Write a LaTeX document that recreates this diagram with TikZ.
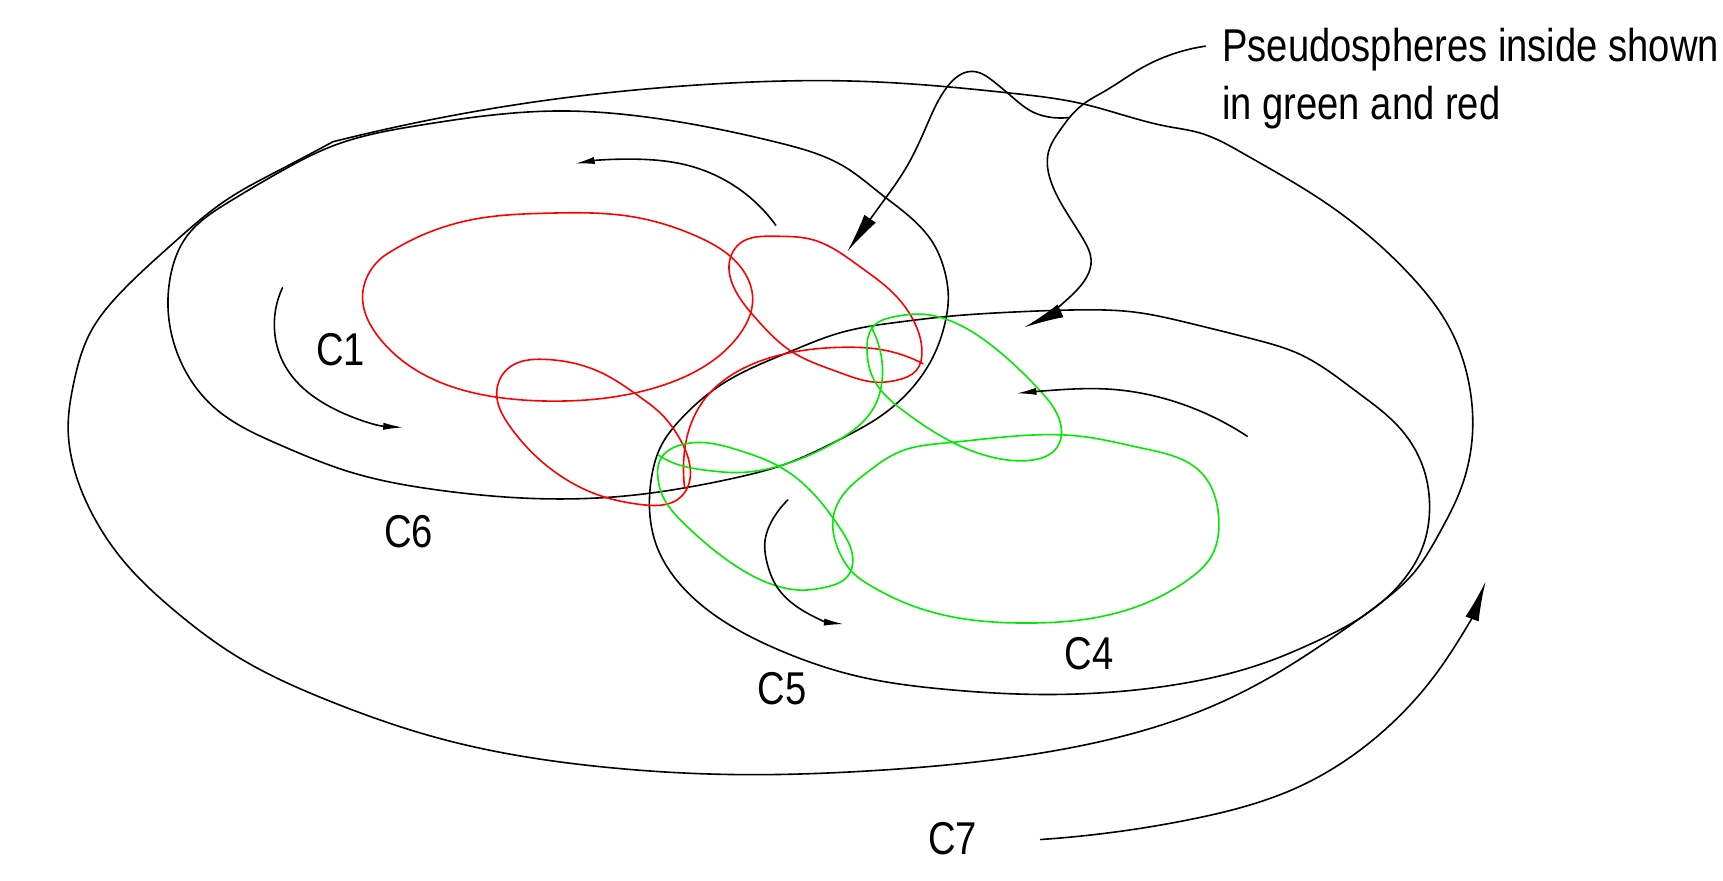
\documentclass[tikz,border=0pt]{standalone}
\usepackage{fontspec}
\setmainfont{Liberation Sans}[FakeStretch=0.83]
\usetikzlibrary{arrows.meta,hobby}
\definecolor{pred}{RGB}{255,0,0}
\definecolor{pgreen}{RGB}{0,235,0}
\begin{document}
\begin{tikzpicture}[x=0.5495pt,y=-0.5495pt,
  curve/.style={line width=0.8pt,line join=round,line cap=round,use Hobby shortcut},
  blk/.style={curve,black},
  rd/.style={curve,pred},
  gr/.style={curve,pgreen},
  loop/.style={closed=true},
  smallarr/.style={blk,-{Latex[length=10pt,width=3.6pt]}},
  bigarr/.style={blk,-{Latex[length=20pt,width=7pt]}},
  lbl/.style={inner sep=0pt,font=\fontsize{23}{28.8}\selectfont}]
\useasboundingbox (0,0) rectangle (1568,801);

% C7 outer
\draw[blk] (303,129) .. (382,111) .. (499,91) .. (640,77) .. (783,74) .. (862,79) .. (922,85) .. (983,94) .. (1037,109) .. (1062,115) .. (1092,121) .. (1132,140) .. (1207,185) .. (1282,249) .. (1320,300) .. (1337,350) .. (1340,395) .. (1329,446) .. (1310,485) .. (1286,522) .. (1256,549) .. (1210,582) .. (1165,611) .. (1107,641) .. (1050,662) .. (982,679) .. (900,692) .. (783,702) .. (689,705) .. (549,698) .. (400,672) .. (300,638) .. (215,597) .. (158,555) .. (112,510) .. (82,464) .. (67,425) .. (62,388) .. (67,349) .. (82,303) .. (112,264) .. (158,221) .. (206,182) .. (252,156) .. (303,129);

% C6
\draw[blk,loop] (153,282) .. (155,252) .. (170,215) .. (208,184) .. (252,158) .. (305,132) .. (382,114) .. (509,101) .. (599,108) .. (709,130) .. (769,152) .. (801,176) .. (831,200) .. (849,221) .. (860,248) .. (863,273) .. (860,294) .. (849,325) .. (831,352) .. (801,379) .. (764,400) .. (713,423) .. (673,434) .. (623,444) .. (582,450) .. (499,454) .. (399,446) .. (320,430) .. (255,405) .. (194,370) .. (164,328);

% C4
\draw[blk,loop] (658,349) .. (719,320) .. (764,303) .. (819,293) .. (862,288) .. (922,284) .. (983,282) .. (1032,284) .. (1082,294) .. (1142,309) .. (1182,322) .. (1234,356) .. (1276,392) .. (1296,428) .. (1301,461) .. (1295,497) .. (1277,528) .. (1240,561) .. (1195,585) .. (1157,601) .. (1057,625) .. (947,632) .. (857,627) .. (783,616) .. (710,592) .. (658,565) .. (620,533) .. (598,498) .. (591,461) .. (593,434) .. (601,407) .. (619,382);

% red loops
\draw[rd] (354,230) .. (429,200) .. (499,194) .. (574,197) .. (634,215) .. (674,243) .. (685,273) .. (674,303) .. (649,328) .. (599,352) .. (499,365) .. (449,361) .. (384,340) .. (344,306) .. (330,273) .. (335,250) .. (354,230);
\draw[rd,loop] (494,327) .. (549,340) .. (582,361) .. (601,376) .. (619,400) .. (628,425) .. (626,443) .. (616,455) .. (594,460) .. (582,459) .. (549,452) .. (499,425) .. (464,388) .. (452,358) .. (464,334);
\draw[rd,loop] (704,215) .. (739,218) .. (783,243) .. (810,264) .. (831,291) .. (839,318) .. (834,337) .. (816,346) .. (801,348) .. (764,339) .. (719,319) .. (689,291) .. (669,264) .. (664,237) .. (674,221);
\draw[rd] (623,444) .. (622,428) .. (628,388) .. (643,361) .. (673,337) .. (719,321) .. (771,316) .. (801,318) .. (840,331);

% green loops
\draw[gr,loop] (789,318) .. (794,298) .. (815,288) .. (840,286) .. (865,292) .. (907,318) .. (946,355) .. (965,385) .. (962,407) .. (937,419) .. (907,417) .. (862,400) .. (825,376) .. (807,361) .. (794,343);
\draw[gr] (792,296) .. (799,312) .. (803,343) .. (794,373) .. (764,400) .. (719,421) .. (673,430) .. (643,428) .. (612,421) .. (599,414);
\draw[gr,loop] (599,437) .. (601,418) .. (619,405) .. (643,403) .. (673,410) .. (710,425) .. (740,449) .. (764,480) .. (776,507) .. (771,525) .. (753,534) .. (728,537) .. (703,532) .. (658,507) .. (622,476) .. (602,449);
\draw[gr,loop] (764,455) .. (789,430) .. (819,411) .. (862,403) .. (922,397) .. (983,397) .. (1040,408) .. (1094,431) .. (1109,470) .. (1102,507) .. (1082,527) .. (1032,553) .. (932,567) .. (870,562) .. (822,548) .. (794,534) .. (776,521) .. (762,498) .. (758,473);

% flow arrows
\draw[smallarr] (706,205) .. (674,173) .. (624,150) .. (584,145) .. (523,149);
\draw[smallarr] (257,262) .. (250,303) .. (260,334) .. (300,370) .. (367,389);
\draw[smallarr] (1135,397) .. (1082,370) .. (1007,354) .. (960,355) .. (925,358);
\draw[smallarr] (717,455) .. (703,473) .. (696,494) .. (698,512) .. (707,534) .. (725,552) .. (768,568);
\draw[bigarr] (947,764) .. (1082,746) .. (1182,716) .. (1257,667) .. (1307,613) .. (1352,529);

% label and pointers
\node[lbl,anchor=base west] (lab1) at (1112,56) {Pseudospheres inside shown};
\node[lbl,anchor=base west] (lab2) at (1112,108.6) {in green and red};
\coordinate (pstart) at (1097,42);
\coordinate (pfork) at (973,107);
\draw[bigarr] (pstart) .. (1037,63) .. (1007,82) .. (983,97) .. (965,118) .. (954,139) .. (956,164) .. (971,194) .. (986,218) .. (993,237) .. (989,252) .. (977,267) .. (932,298);
\draw[bigarr] (pfork) .. (958,107) .. (940,102) .. (922,89) .. (904,74) .. (885,65) .. (862,79) .. (843,115) .. (825,152) .. (801,187) .. (771,229);

% curve labels
\node[lbl] (c1) at (310,318) {C1};
\node[lbl] (c6) at (372,484) {C6};
\node[lbl] (c5) at (712,627) {C5};
\node[lbl] (c4) at (991,595) {C4};
\node[lbl] (c7) at (867,763) {C7};
\end{tikzpicture}
\end{document}
